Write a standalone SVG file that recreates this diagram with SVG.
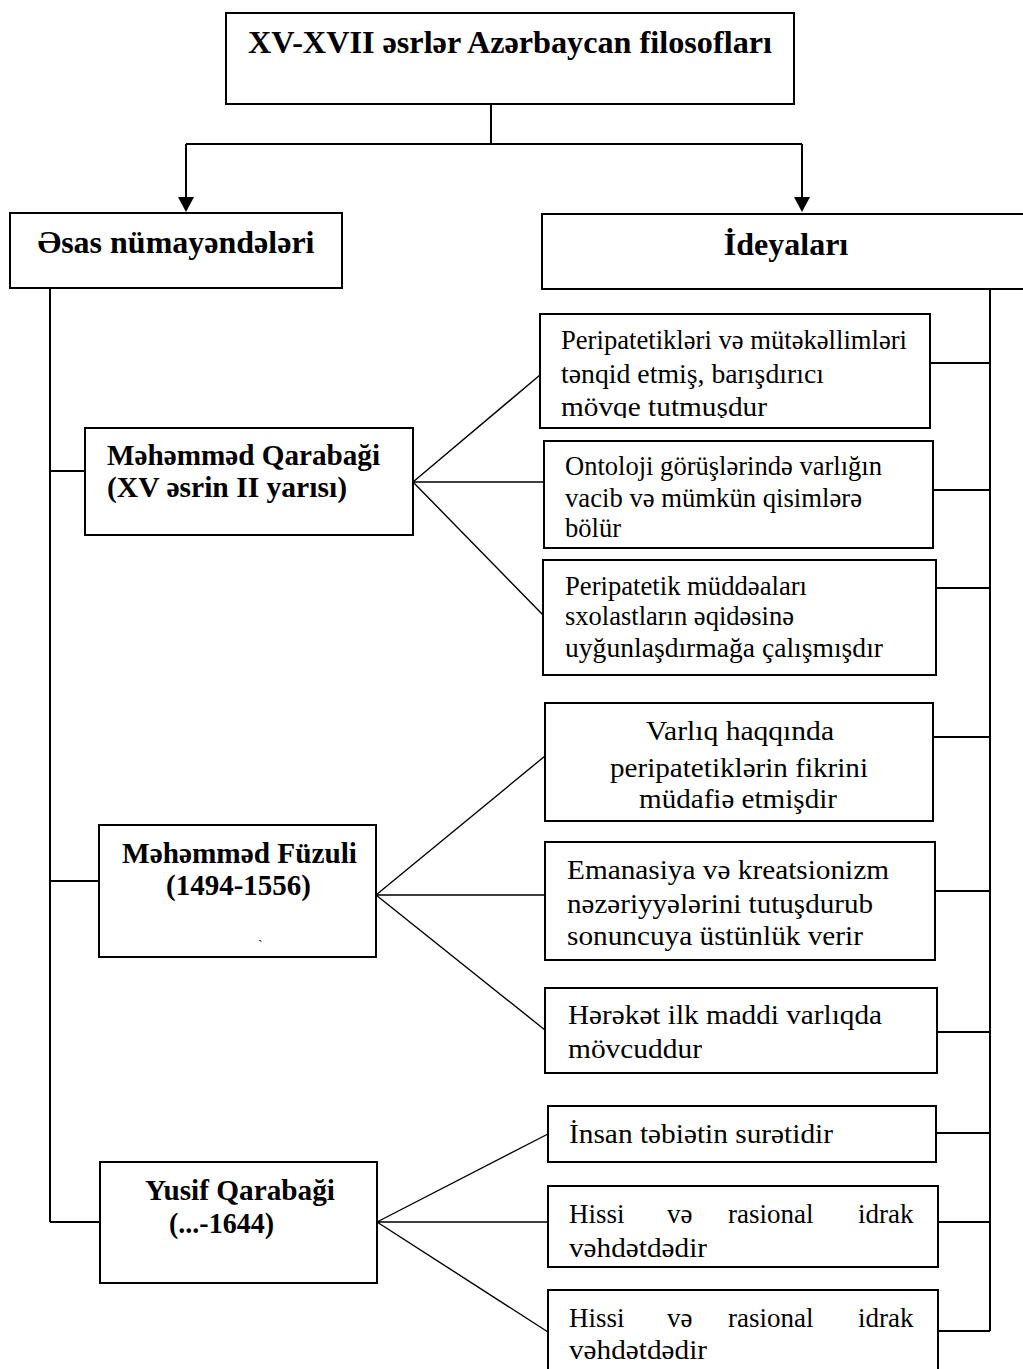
<svg xmlns="http://www.w3.org/2000/svg" width="1023" height="1369" viewBox="0 0 1023 1369">
<style>
.box{fill:#fff;stroke:#000;stroke-width:2}
.ln{fill:none;stroke:#000;stroke-width:2}
.fan{fill:none;stroke:#000;stroke-width:1.4}
.t{font-family:"Liberation Serif","Times New Roman",serif;fill:#000}
.b{font-weight:bold}
.h{font-size:32px}
.n{font-size:29px}
.r{font-size:27px}
.c{text-anchor:middle}
</style>
<defs>
<clipPath id="clip1"><rect x="540" y="314" width="390" height="104"/></clipPath>
</defs>
<rect width="1023" height="1369" fill="#fff"/>
<g id="connectors">
<path class="ln" d="M491,104 V144 M186,144 H802"/>
<line class="ln" x1="186" y1="144" x2="186" y2="197"/>
<line class="ln" x1="802" y1="144" x2="802" y2="197"/>
<path d="M178,197 L194,197 L186,212 Z" fill="#000"/>
<path d="M794,197 L810,197 L802,212 Z" fill="#000"/>
<path class="ln" d="M50,288 V1222 M50,471 H85 M50,881 H99 M50,1222 H100"/>
<path class="ln" d="M990,289 V1331 M930,363 H990 M930,490 H990 M936,588 H990 M933,737 H990 M935,891 H990 M937,1032 H990 M936,1133 H990 M938,1222 H990 M938,1331 H990"/>
<path class="fan" d="M413,482 L540,375 M413,482 L543,482 M413,482 L543,615"/>
<path class="fan" d="M376,895 L545,756 M376,895 L545,895 M376,895 L545,1030"/>
<path class="fan" d="M377,1222 L548,1134 M377,1222 L548,1222 M377,1222 L548,1332"/>
</g>
<g id="title">
<rect class="box" x="226" y="13" width="568" height="91"/>
<text class="t b h" x="248" y="53" textLength="524" lengthAdjust="spacingAndGlyphs">XV-XVII əsrlər Azərbaycan filosofları</text>
</g>
<g id="representatives">
<rect class="box" x="10" y="213" width="332" height="75"/>
<text class="t b h c" x="176" y="253">Əsas nümayəndələri</text>
</g>
<g id="ideas">
<rect class="box" x="542" y="214" width="488" height="75"/>
<text class="t b h c" x="786" y="255">İdeyaları</text>
</g>
<g id="qarabagi-m">
<rect class="box" x="85" y="428" width="328" height="107"/>
<text class="t b n" x="107" y="465" textLength="273" lengthAdjust="spacingAndGlyphs">Məhəmməd Qarabaği</text>
<text class="t b n" x="107" y="497" textLength="240" lengthAdjust="spacingAndGlyphs">(XV əsrin II yarısı)</text>
</g>
<g id="fuzuli">
<rect class="box" x="99" y="825" width="277" height="132"/>
<text class="t b n" x="122" y="863" textLength="235" lengthAdjust="spacingAndGlyphs">Məhəmməd Füzuli</text>
<text class="t b n" x="166" y="895" textLength="145" lengthAdjust="spacingAndGlyphs">(1494-1556)</text>
<text class="t" x="258" y="950" font-size="14">`</text>
</g>
<g id="qarabagi-y">
<rect class="box" x="100" y="1162" width="277" height="121"/>
<text class="t b n" x="145" y="1200" textLength="190" lengthAdjust="spacingAndGlyphs">Yusif Qarabaği</text>
<text class="t b n" x="169" y="1233" textLength="105" lengthAdjust="spacingAndGlyphs">(...-1644)</text>
</g>
<g id="idea1">
<rect class="box" x="540" y="314" width="390" height="114"/>
<g clip-path="url(#clip1)">
<text class="t r" x="561" y="349" textLength="346" lengthAdjust="spacingAndGlyphs">Peripatetikləri və mütəkəllimləri</text>
<text class="t r" x="561" y="383" textLength="263" lengthAdjust="spacingAndGlyphs">tənqid etmiş, barışdırıcı</text>
<text class="t r" x="561" y="416" textLength="206" lengthAdjust="spacingAndGlyphs">mövqe tutmuşdur</text>
</g>
</g>
<g id="idea2">
<rect class="box" x="544" y="441" width="389" height="107"/>
<text class="t r" x="565" y="475" textLength="317" lengthAdjust="spacingAndGlyphs">Ontoloji görüşlərində varlığın</text>
<text class="t r" x="565" y="507" textLength="297" lengthAdjust="spacingAndGlyphs">vacib və mümkün qisimlərə</text>
<text class="t r" x="565" y="537" textLength="56" lengthAdjust="spacingAndGlyphs">bölür</text>
</g>
<g id="idea3">
<rect class="box" x="543" y="560" width="393" height="115"/>
<text class="t r" x="565" y="595" textLength="242" lengthAdjust="spacingAndGlyphs">Peripatetik müddəaları</text>
<text class="t r" x="565" y="625" textLength="229" lengthAdjust="spacingAndGlyphs">sxolastların əqidəsinə</text>
<text class="t r" x="565" y="657" textLength="318" lengthAdjust="spacingAndGlyphs">uyğunlaşdırmağa çalışmışdır</text>
</g>
<g id="idea4">
<rect class="box" x="545" y="703" width="388" height="118"/>
<text class="t r" x="646" y="740" textLength="188" lengthAdjust="spacingAndGlyphs">Varlıq haqqında</text>
<text class="t r" x="610" y="777" textLength="258" lengthAdjust="spacingAndGlyphs">peripatetiklərin fikrini</text>
<text class="t r" x="639" y="808" textLength="198" lengthAdjust="spacingAndGlyphs">müdafiə etmişdir</text>
</g>
<g id="idea5">
<rect class="box" x="545" y="842" width="390" height="118"/>
<text class="t r" x="567" y="879" textLength="322" lengthAdjust="spacingAndGlyphs">Emanasiya və kreatsionizm</text>
<text class="t r" x="567" y="913" textLength="306" lengthAdjust="spacingAndGlyphs">nəzəriyyələrini tutuşdurub</text>
<text class="t r" x="567" y="945" textLength="296" lengthAdjust="spacingAndGlyphs">sonuncuya üstünlük verir</text>
</g>
<g id="idea6">
<rect class="box" x="545" y="988" width="392" height="85"/>
<text class="t r" x="568" y="1024" textLength="314" lengthAdjust="spacingAndGlyphs">Hərəkət ilk maddi varlıqda</text>
<text class="t r" x="568" y="1058" textLength="134" lengthAdjust="spacingAndGlyphs">mövcuddur</text>
</g>
<g id="idea7">
<rect class="box" x="548" y="1106" width="388" height="56"/>
<text class="t r" x="569" y="1143" textLength="264" lengthAdjust="spacingAndGlyphs">İnsan təbiətin surətidir</text>
</g>
<g id="idea8">
<rect class="box" x="548" y="1186" width="390" height="81"/>
<text class="t r" y="1223"><tspan x="569">Hissi</tspan><tspan x="667">və</tspan><tspan x="728">rasional</tspan><tspan x="858">idrak</tspan></text>
<text class="t r" x="569" y="1257" textLength="138" lengthAdjust="spacingAndGlyphs">vəhdətdədir</text>
</g>
<g id="idea9">
<rect class="box" x="548" y="1290" width="390" height="100"/>
<text class="t r" y="1327"><tspan x="569">Hissi</tspan><tspan x="667">və</tspan><tspan x="728">rasional</tspan><tspan x="858">idrak</tspan></text>
<text class="t r" x="569" y="1359" textLength="138" lengthAdjust="spacingAndGlyphs">vəhdətdədir</text>
</g>
</svg>
